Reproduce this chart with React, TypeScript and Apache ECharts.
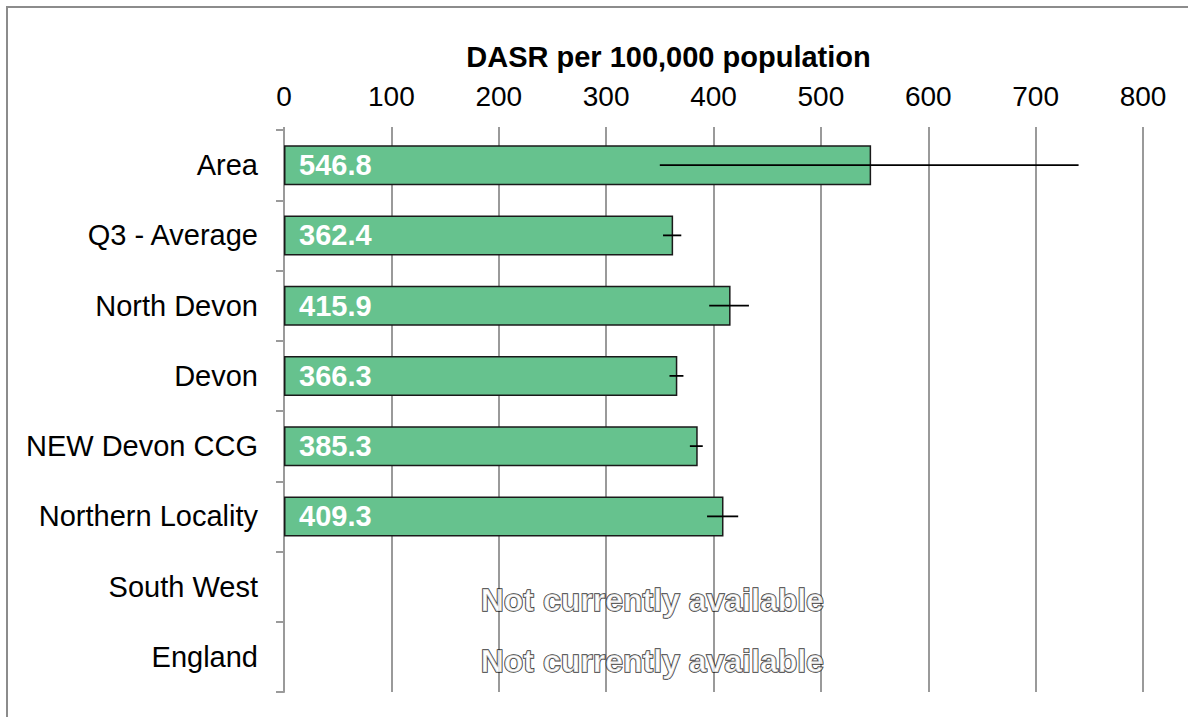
import React, { useEffect, useRef } from "react";
import * as echarts from "echarts";

const categories = [
  "Area",
  "Q3 - Average",
  "North Devon",
  "Devon",
  "NEW Devon CCG",
  "Northern Locality",
  "South West",
  "England",
];
const values = [546.8, 362.4, 415.9, 366.3, 385.3, 409.3, null, null];
const lowerCI = [350, 353, 396, 359, 378, 394, null, null];
const upperCI = [740, 370, 433, 372, 390, 423, null, null];
const xTicks = { min: 0, max: 800, interval: 100 };
const axisName = "DASR per 100,000 population";
const unavailableText = "Not currently available";
const unavailableCats = ["South West", "England"];
const unavailableX = 343;

export default function App() {
  const ref = useRef<HTMLDivElement>(null);
  useEffect(() => {
    const chart = echarts.init(ref.current!, null, { renderer: "svg" });
    const font = "'Liberation Sans', Arial, sans-serif";
    const errData: any[] = [];
    categories.forEach((c, i) => {
      if (lowerCI[i] != null && upperCI[i] != null) errData.push([lowerCI[i], upperCI[i], i]);
    });
    const naOffsets = [13, 4];
    const naData = unavailableCats.map((c, k) => ({
      value: [unavailableX, categories.indexOf(c)],
      label: { offset: [0, naOffsets[k]] },
    }));
    chart.setOption({
      animation: false,
      textStyle: { fontFamily: font },
      graphic: [
        {
          type: "rect",
          shape: { x: 7, y: 7, width: 1300, height: 800 },
          style: { fill: "none", stroke: "#8c8c8c", lineWidth: 2 },
          silent: true,
          z: -10,
        },
      ],
      grid: { left: 284, right: 45, top: 130, bottom: 25, containLabel: false },
      xAxis: {
        type: "value",
        position: "top",
        min: xTicks.min,
        max: xTicks.max,
        interval: xTicks.interval,
        name: axisName,
        nameLocation: "middle",
        nameGap: 59,
        nameTextStyle: {
          fontSize: 29,
          fontWeight: "bold",
          color: "#000",
          fontFamily: font,
          padding: [0, 90, 0, 0],
        },
        axisLine: { show: false },
        axisTick: { show: true, length: 3, lineStyle: { color: "#9a9a9a", width: 2 } },
        axisLabel: { fontSize: 28, color: "#000", margin: 20, fontFamily: font },
        splitLine: { show: true, lineStyle: { color: "#9a9a9a", width: 2 } },
      },
      yAxis: {
        type: "category",
        inverse: true,
        data: categories,
        boundaryGap: true,
        axisLine: { show: true, lineStyle: { color: "#9a9a9a", width: 2 } },
        axisTick: { show: true, length: 8, lineStyle: { color: "#9a9a9a", width: 2 } },
        axisLabel: { fontSize: 29, color: "#000", margin: 26, fontFamily: font },
        splitLine: { show: false },
      },
      series: [
        {
          type: "bar",
          data: values,
          barWidth: 40,
          itemStyle: { color: "#66c28e", borderColor: "#1a1a1a", borderWidth: 1.5 },
          label: {
            show: true,
            position: "insideLeft",
            distance: 15,
            formatter: (p: any) => (p.value == null ? "" : Number(p.value).toFixed(1)),
            color: "#fff",
            fontSize: 29,
            fontWeight: "bold",
            fontFamily: font,
          },
          z: 2,
        },
        {
          type: "custom",
          data: errData,
          encode: { x: [0, 1], y: 2 },
          renderItem: (params: any, api: any) => {
            const idx = api.value(2);
            const a = api.coord([api.value(0), idx]);
            const b = api.coord([api.value(1), idx]);
            return {
              type: "line",
              shape: { x1: a[0], y1: a[1], x2: b[0], y2: b[1] },
              style: { stroke: "#000", lineWidth: 1.8 },
            };
          },
          z: 5,
        },
        {
          type: "scatter",
          data: naData,
          symbolSize: 0,
          label: {
            show: true,
            position: "inside",
            formatter: unavailableText,
            fontSize: 32,
            fontWeight: "bold",
            fontFamily: font,
            color: "#fff",
            textBorderColor: "#000",
            textBorderWidth: 1.6,
          },
          z: 6,
        },
      ],
    });
    return () => chart.dispose();
  }, []);
  return (
    <div
      ref={ref}
      style={{ position: "fixed", left: 0, top: 0, width: 1188, height: 717, background: "#fff" }}
    />
  );
}
